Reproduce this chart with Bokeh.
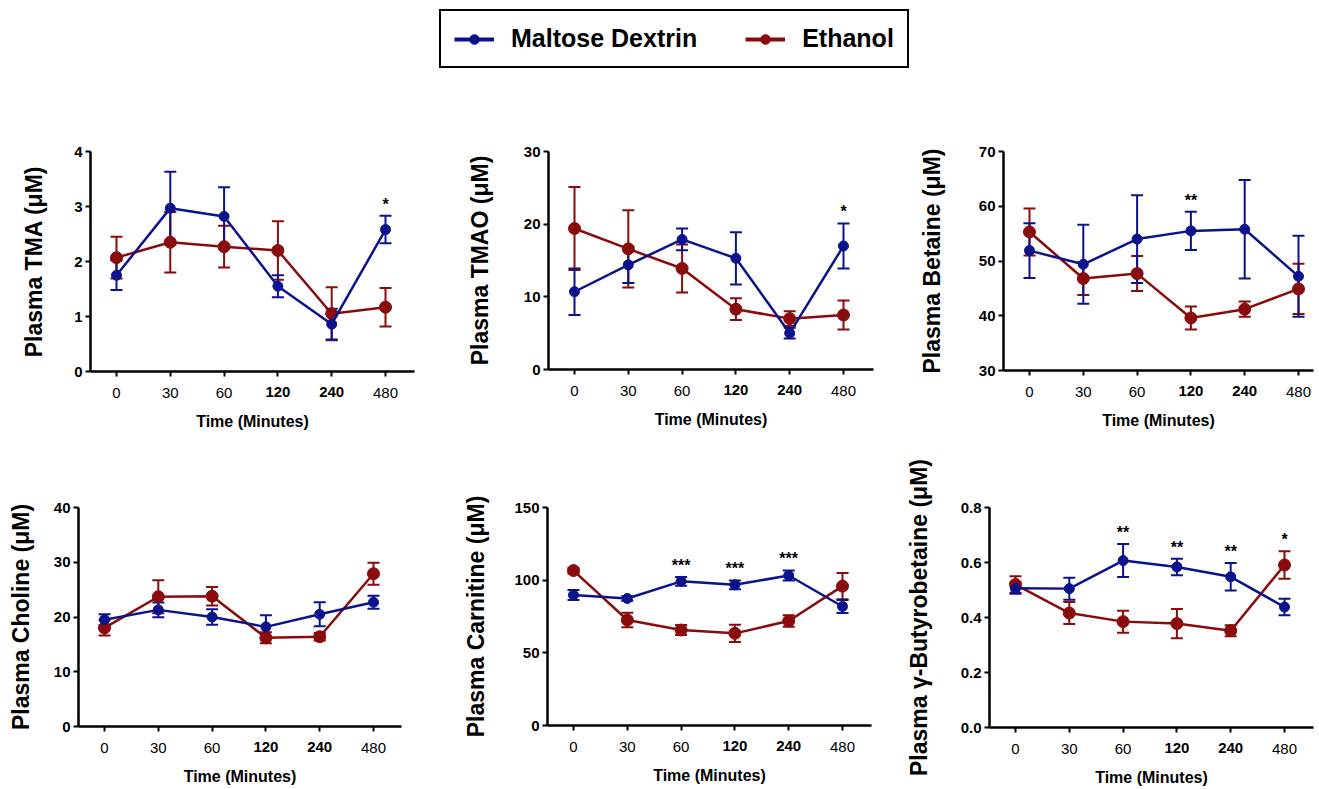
import numpy as np
from bokeh.plotting import figure
from bokeh.models import (Range1d, ColumnDataSource, Whisker, TeeHead, FixedTicker,
                          LinearAxis, Legend, LegendItem, NumeralTickFormatter)
from bokeh.layouts import column, row
from bokeh.embed import file_html
from bokeh.resources import INLINE
from bokeh.core.properties import value

# ---------------- data ----------------
times = ["0", "30", "60", "120", "240", "480"]
bold_times = ["120", "240"]
series_names = ["Maltose Dextrin", "Ethanol"]

tma_md = [1.75, 2.97, 2.82, 1.55, 0.86, 2.58]
tma_md_sem = [0.27, 0.66, 0.53, 0.20, 0.28, 0.25]
tma_et = [2.07, 2.35, 2.27, 2.20, 1.05, 1.17]
tma_et_sem = [0.38, 0.55, 0.38, 0.53, 0.48, 0.35]
tma_sig = ["", "", "", "", "", "*"]

tmao_md = [10.7, 14.4, 17.9, 15.3, 5.0, 17.0]
tmao_md_sem = [3.2, 2.5, 1.5, 3.6, 0.75, 3.1]
tmao_et = [19.4, 16.6, 13.9, 8.3, 7.0, 7.5]
tmao_et_sem = [5.7, 5.3, 3.3, 1.5, 1.0, 2.0]
tmao_sig = ["", "", "", "", "", "*"]

bet_md = [51.9, 49.4, 54.0, 55.5, 55.8, 47.2]
bet_md_sem = [5.0, 7.2, 8.0, 3.5, 9.0, 7.4]
bet_et = [55.3, 46.8, 47.7, 39.6, 41.2, 44.9]
bet_et_sem = [4.3, 3.0, 3.2, 2.1, 1.4, 4.6]
bet_sig = ["", "", "", "**", "", ""]

cho_md = [19.5, 21.3, 20.0, 18.2, 20.5, 22.7]
cho_md_sem = [1.0, 1.35, 1.4, 2.1, 2.2, 1.2]
cho_et = [18.0, 23.7, 23.8, 16.2, 16.4, 27.9]
cho_et_sem = [1.4, 3.0, 1.7, 1.0, 0.7, 2.0]
cho_sig = ["", "", "", "", "", ""]

car_md = [89.8, 87.4, 99.2, 96.8, 103.2, 81.9]
car_md_sem = [3.5, 1.5, 3.0, 3.0, 3.5, 4.5]
car_et = [106.6, 72.6, 65.7, 63.4, 71.9, 95.9]
car_et_sem = [2.0, 5.0, 3.5, 6.0, 4.0, 9.0]
car_sig = ["", "", "***", "***", "***", ""]

gbb_md = [0.506, 0.505, 0.607, 0.584, 0.548, 0.438]
gbb_md_sem = [0.02, 0.04, 0.06, 0.03, 0.05, 0.03]
gbb_et = [0.52, 0.416, 0.385, 0.378, 0.352, 0.591]
gbb_et_sem = [0.03, 0.04, 0.04, 0.053, 0.02, 0.05]
gbb_sig = ["", "", "**", "**", "**", "*"]

ylabels = ["Plasma TMA (μM)", "Plasma TMAO (μM)", "Plasma Betaine (μM)",
           "Plasma Choline (μM)", "Plasma Carnitine (μM)", "Plasma γ-Butyrobetaine (μM)"]
y_limits = [(0, 4, 1), (0, 30, 10), (30, 70, 10), (0, 40, 10), (0, 150, 50), (0, 0.8, 0.2)]
xlabel = "Time (Minutes)"

# ---------------- style ----------------
BLUE = "#0b138c"
RED = "#8a0b0b"
FONT = "Liberation Sans"
SPACING = 53.8  # px per category

# frame_w, frame_h, border_l, border_r, border_t, border_b, ylabel standoff
geoms = [
    (324, 220, 90, 44, 58, 62, 24),
    (325, 218, 90, 35, 58, 62, 28),
    (310, 219, 95, 3, 58, 62, 31),
    (323, 219, 78, 56, 74, 50, 17),
    (324, 218, 90, 18, 74, 50, 22),
    (324, 220, 100, 3, 74, 50, 26),
]


def make_panel(idx, md, md_sem, et, et_sem, sig):
    fw, fh, bl, br, bt, bb, ystand = geoms[idx]
    lo, hi, step = y_limits[idx]
    x = list(range(len(times)))
    x0 = -26.0 / SPACING
    p = figure(frame_width=fw, frame_height=fh,
               min_border_left=bl, min_border_right=br,
               min_border_top=bt, min_border_bottom=bb,
               x_range=Range1d(x0, x0 + fw / SPACING), y_range=Range1d(lo, hi),
               output_backend="svg", toolbar_location=None, tools="")
    p.grid.visible = False
    p.outline_line_color = None
    p.background_fill_color = "white"

    # y axis
    ya = p.yaxis[0]
    n = int(round((hi - lo) / step)) + 1
    ya.ticker = FixedTicker(ticks=list(np.linspace(lo, hi, n)))
    if step < 1:
        ya.formatter = NumeralTickFormatter(format="0.0")
    ya.axis_label = ylabels[idx]
    ya.axis_label_text_font = FONT
    ya.axis_label_text_font_size = "23px"
    ya.axis_label_text_font_style = "bold"
    ya.axis_label_standoff = ystand
    ya.major_label_text_font = FONT
    ya.major_label_text_font_size = "15px"
    ya.major_label_text_font_style = "bold"
    ya.major_label_standoff = 3

    # x axis: regular tick labels
    xa = p.xaxis[0]
    xa.ticker = FixedTicker(ticks=x)
    xa.major_label_overrides = {i: (" " if t in bold_times else t) for i, t in enumerate(times)}
    xa.major_label_text_font = FONT
    xa.major_label_text_font_size = "15px"
    xa.major_label_text_font_style = "normal"
    xa.major_label_standoff = 7

    for ax in (xa, ya):
        ax.axis_line_width = 2.5
        ax.axis_line_color = "black"
        ax.major_tick_line_width = 2
        ax.major_tick_line_color = "black"
        ax.major_tick_out = 5
        ax.major_tick_in = 0
        ax.minor_tick_out = 0
        ax.minor_tick_in = 0
        ax.major_label_text_color = "black"
        ax.axis_label_text_color = "black"

    # second x axis: bold tick labels on the same line, plus the axis title
    bold_idx = [times.index(t) for t in bold_times]
    xb = LinearAxis(ticker=FixedTicker(ticks=bold_idx),
                    major_label_overrides={i: times[i] for i in bold_idx},
                    axis_line_color=None, major_tick_line_color=None,
                    minor_tick_line_color=None, major_tick_out=0, major_tick_in=0,
                    minor_tick_out=0, minor_tick_in=0,
                    major_label_standoff=-17,
                    major_label_text_font=FONT, major_label_text_font_size="15px",
                    major_label_text_font_style="bold", major_label_text_color="black",
                    axis_label=xlabel, axis_label_text_font=FONT,
                    axis_label_text_font_size="16px", axis_label_text_font_style="bold",
                    axis_label_text_color="black", axis_label_standoff=13)
    p.add_layout(xb, "below")

    # series
    for vals, sems, col, size in ((et, et_sem, RED, 12), (md, md_sem, BLUE, 10)):
        up = [v + s for v, s in zip(vals, sems)]
        dn = [v - s for v, s in zip(vals, sems)]
        src = ColumnDataSource(dict(x=x, y=vals, up=up, dn=dn))
        w = Whisker(base="x", upper="up", lower="dn", source=src, dimension="height",
                    line_color=col, line_width=2,
                    upper_head=TeeHead(size=12, line_color=col, line_width=2),
                    lower_head=TeeHead(size=12, line_color=col, line_width=2))
        p.add_layout(w)
        p.line("x", "y", source=src, line_color=col, line_width=2.5)
        p.scatter("x", "y", source=src, marker="circle", size=size,
                  fill_color=col, line_color=col)

    # significance marks
    sx, sy, st = [], [], []
    for i, s in enumerate(sig):
        if s:
            sx.append(i)
            sy.append(max(md[i] + md_sem[i], et[i] + et_sem[i]))
            st.append(s)
    if sx:
        p.text(x=sx, y=sy, text=st, text_align="center", text_baseline="bottom",
               y_offset=-3, text_font=value(FONT), text_font_size="16px",
               text_font_style="bold", text_color="black")
    return p


p1 = make_panel(0, tma_md, tma_md_sem, tma_et, tma_et_sem, tma_sig)
p2 = make_panel(1, tmao_md, tmao_md_sem, tmao_et, tmao_et_sem, tmao_sig)
p3 = make_panel(2, bet_md, bet_md_sem, bet_et, bet_et_sem, bet_sig)
p4 = make_panel(3, cho_md, cho_md_sem, cho_et, cho_et_sem, cho_sig)
p5 = make_panel(4, car_md, car_md_sem, car_et, car_et_sem, car_sig)
p6 = make_panel(5, gbb_md, gbb_md_sem, gbb_et, gbb_et_sem, gbb_sig)

# legend figure (legend renderers hold points outside the visible range)
lf = figure(width=1316, height=93, x_range=Range1d(0, 1), y_range=Range1d(0, 1),
            output_backend="svg", toolbar_location=None, tools="", min_border=0,
            x_axis_location=None, y_axis_location=None)
lf.grid.visible = False
lf.outline_line_color = None
items = []
for name, col in zip(series_names, [BLUE, RED]):
    l = lf.line(x=[5, 6], y=[5, 5], line_color=col, line_width=4)
    s = lf.scatter(x=[5], y=[5], marker="circle", size=13, fill_color=col, line_color=col)
    items.append(LegendItem(label=name, renderers=[l, s]))
leg = Legend(items=items, orientation="horizontal", location=(439, 25),
             label_text_font=FONT, label_text_font_size="25px", label_text_font_style="bold",
             label_text_color="black", glyph_width=40, glyph_height=24,
             label_standoff=17, spacing=48, padding=13, margin=0,
             border_line_color="black", border_line_width=2, border_line_alpha=1,
             background_fill_color="white", background_fill_alpha=1)
lf.add_layout(leg, "center")

layout = column(lf, row(p1, p2, p3), row(p4, p5, p6))
open("out.html", "w").write(file_html(layout, INLINE))
